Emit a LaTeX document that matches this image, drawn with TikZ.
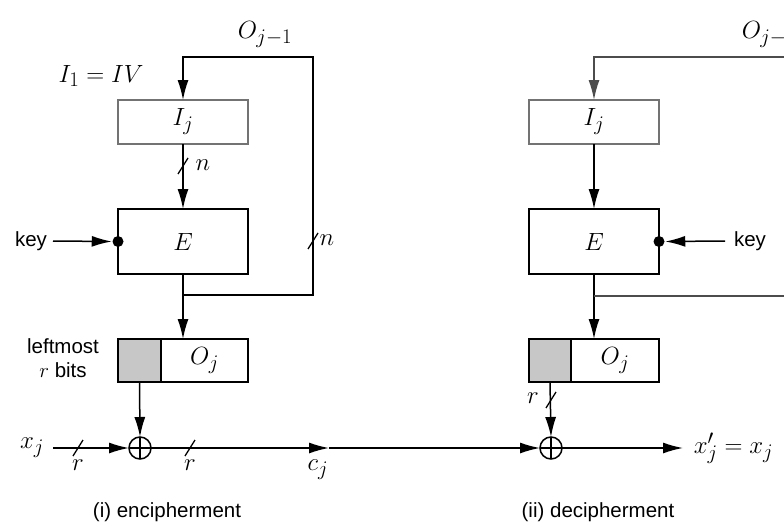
\documentclass[tikz,border=0pt]{standalone}
\usepackage{fontspec}
\setsansfont{Liberation Sans}
\usetikzlibrary{arrows.meta,calc}
\begin{document}
\begin{tikzpicture}[x=1pt,y=-1pt, line width=1.5pt,
  arr/.style={-{Latex[length=20pt,width=11pt]}},
  blk/.style={draw, minimum width=130pt, inner sep=0pt, outer sep=0pt},
  shade/.style={draw, fill=black!22, minimum width=43pt, minimum height=43pt, inner sep=0pt, outer sep=0pt},
  dotn/.style={circle, fill, minimum size=11pt, inner sep=0pt},
  xorn/.style={circle, draw, minimum size=22pt, inner sep=0pt, outer sep=0pt,
    path picture={\draw (path picture bounding box.north) -- (path picture bounding box.south)
                        (path picture bounding box.west) -- (path picture bounding box.east);}},
  lbl/.style={font=\fontsize{24.88}{28}\selectfont, inner sep=1pt},
  txt/.style={font=\sffamily\fontsize{20.5}{24}\selectfont, inner sep=1pt},
  bus/.style={line width=1.3pt},
]
\useasboundingbox (0,0) rectangle (784,527);
\clip (0,0) rectangle (784,527);

% ---------------- (i) encipherment ----------------
\node[blk, draw=black!55, minimum height=44pt, lbl] (IjL) at (183,122) {$I_j$};
\node[blk, minimum height=65pt, lbl] (EL) at (183,241.5) {$E$};
\node[blk, minimum height=43pt] (OL) at (183,360.5) {};
\node[shade, anchor=west] (gL) at (OL.west) {};
\node[lbl] (OjL) at ($(gL.east)!0.5!(OL.east)$) {$O_j$};

\node[lbl] (Oj1L) at (265,35) {$O_{j-1}$};
\node[lbl] (IVL) at (101,76) {$I_1 = IV$};

\coordinate (ltL) at (183,57);
\coordinate (rtL) at (313,57);
\coordinate (rbL) at (313,295);
\coordinate (lbL) at (183,295);
\draw[arr] (lbL) -- (rbL) -- (rtL) -- (ltL) -- (IjL.north);
\draw[arr] (IjL.south) -- (EL.north);
\draw (EL.south) -- (lbL);
\draw[arr] (lbL) -- (OL.north);

\node[txt] (keyL) at (31,241) {key};
\node[dotn] (dL) at (EL.west) {};
\coordinate (ks) at (53,241);
\draw[arr] (ks) -- (dL.west);

\node[txt] (lm) at (63,346) {leftmost};
\node[txt] (rb) at (63,370) {$\fontsize{24.88}{28}\selectfont r$ bits};

\node[xorn] (xorL) at (140,448) {};
\coordinate (gLs) at (gL.south);
\draw[arr] (gLs) -- (xorL.north);

\node[lbl] (xj) at (32,448) {$x_j$};
\coordinate (xjs) at (53,448);
\draw[arr] (xjs) -- (xorL.west);

\coordinate (cjt) at (329,448);
\draw[arr] (xorL.east) -- (cjt);
\node[lbl] (cj) at (318,470) {$c_j$};

% bus width marks
\coordinate (s1) at (183,166);
\coordinate (s2) at (313,241);
\coordinate (s3) at (78,448);
\coordinate (s4) at (190,448);
\foreach \s in {s1,s2,s3,s4}
  \draw[bus] ([shift={(-5,8)}]\s) -- ([shift={(5,-8)}]\s);
\node[lbl] (n1) at (203,165) {$n$};
\node[lbl] (n2) at (327,240) {$n$};
\node[lbl] (r1) at (78,465) {$r$};
\node[lbl] (r2) at (190,465) {$r$};

\node[txt] (capL) at (167,512) {(i) encipherment};

% ---------------- (ii) decipherment ----------------
\node[blk, draw=black!55, minimum height=44pt, lbl] (IjR) at (594,122) {$I_j$};
\node[blk, minimum height=65pt, lbl] (ER) at (594,241.5) {$E$};
\node[blk, minimum height=43pt] (OR) at (594,360.5) {};
\node[shade, anchor=west, minimum width=42pt] (gR) at (OR.west) {};
\node[lbl] (OjR) at ($(gR.east)!0.5!(OR.east)$) {$O_j$};

\node[lbl, anchor=west] (Oj1R) at (740,35) {$O_{j-1}$};

\coordinate (ltR) at (594,57);
\coordinate (rtR) at (800,57);
\draw[arr, draw=black!70] (rtR) -- (ltR) -- (IjR.north);
\draw[arr] (IjR.south) -- (ER.north);
\coordinate (brR) at (594,296);
\coordinate (beR) at (800,296);
\draw (ER.south) -- (brR);
\draw[arr] (brR) -- (OR.north);
\draw[draw=black!70] (brR) -- (beR);

\node[txt] (keyR) at (750,241) {key};
\node[dotn] (dR) at (ER.east) {};
\coordinate (kR) at (725,241);
\draw[arr] (kR) -- (dR.east);

\node[xorn] (xorR) at (551,448) {};
\coordinate (gRs) at (gR.south);
\draw[arr] (gRs) -- (xorR.north);
\coordinate (s5) at (551,400);
\draw[bus] ([shift={(-5,8)}]s5) -- ([shift={(5,-8)}]s5);
\node[lbl] (r3) at (533,398) {$r$};

\draw[arr] (cjt) -- (xorR.west);
\coordinate (outR) at (683,448);
\draw[arr] (xorR.east) -- (outR);
\node[lbl, anchor=west] (xout) at (692,448) {$x'_j = x_j$};

\node[txt] (capR) at (598,512) {(ii) decipherment};
\end{tikzpicture}
\end{document}
